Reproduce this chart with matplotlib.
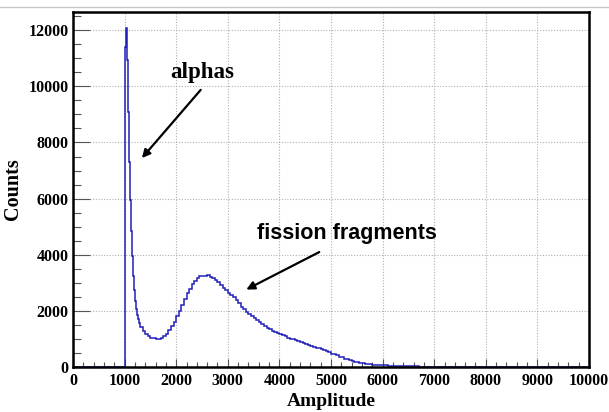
import numpy as np
import matplotlib
matplotlib.use("Agg")
import matplotlib.pyplot as plt
from matplotlib.lines import Line2D
from matplotlib.ticker import MultipleLocator

# bin edges (amplitude) and counts
edges_low = [0, 1000]
counts_low = [0]

# fine bins over the alpha peak (width 20)
edges_alpha = [1000, 1020, 1040, 1060, 1080, 1100, 1120, 1140, 1160, 1180,
               1200, 1220, 1240, 1260, 1280, 1300]
counts_alpha = [11400, 12080, 10950, 9100, 7300, 5950, 4850, 3950, 3250, 2750,
                2350, 2080, 1870, 1700, 1560]

# fission fragment region (width 50, from 1300 to 6400)
counts_ff = [
    1420, 1300, 1190, 1110, 1050, 1030, 1010, 1000, 1040, 1090,   # 1300-1800
    1180, 1310, 1460, 1620, 1800, 2000, 2200, 2420, 2620, 2780,   # 1800-2300
    2950, 3060, 3170, 3230, 3260, 3240, 3270, 3210, 3180, 3090,   # 2300-2800
    3020, 2920, 2830, 2740, 2640, 2580, 2510, 2380, 2270, 2150,   # 2800-3300
    2050, 1960, 1890, 1810, 1730, 1660, 1600, 1530, 1470, 1400,   # 3300-3800
    1350, 1300, 1250, 1220, 1180, 1140, 1090, 1040, 1010, 980,    # 3800-4300
    950, 910, 880, 850, 810, 780, 750, 720, 690, 660,             # 4300-4800
    630, 600, 560, 520, 480, 450, 410, 370, 340, 300,             # 4800-5300
    270, 240, 215, 190, 170, 150, 130, 115, 100, 90,              # 5300-5800
    80, 72, 68, 62, 60, 55, 52, 48, 42, 38,                       # 5800-6300
    34, 30,                                                       # 6300-6400
]
edges_ff = list(range(1300, 6401, 50))

# tail
edges_tail = [6400, 6500, 6600, 6700, 6800, 7000, 8000, 10000]
counts_tail = [26, 22, 18, 15, 12, 8, 5]

edges = edges_low + edges_alpha[1:] + edges_ff[1:] + edges_tail[1:]
counts = counts_low + counts_alpha + counts_ff + counts_tail

serif = ["Liberation Serif", "DejaVu Serif"]
sans = ["Liberation Sans", "DejaVu Sans"]

fig = plt.figure(figsize=(6.09, 4.12), dpi=100)
fig.patch.set_facecolor("white")
ax = fig.add_axes([73 / 609, 1 - 367 / 412, 516 / 609, 355 / 412])

ax.stairs(counts, edges, color="#2020b8", linewidth=1.1, baseline=0)

ax.set_xlim(0, 10000)
ax.set_ylim(0, 12650)

ax.xaxis.set_major_locator(MultipleLocator(1000))
ax.xaxis.set_minor_locator(MultipleLocator(200))
ax.yaxis.set_major_locator(MultipleLocator(2000))
ax.yaxis.set_minor_locator(MultipleLocator(500))

ax.grid(True, which="major", color="#b0b0b0", linestyle=(0, (1, 1.5)), linewidth=0.8)
ax.set_axisbelow(True)

ax.tick_params(axis="x", which="major", direction="in", length=6, width=0.8, pad=4,
               top=False, color="#555555")
ax.tick_params(axis="x", which="minor", direction="in", length=3.5, width=0.8,
               top=False, color="#555555")
ax.tick_params(axis="y", which="major", direction="in", length=12, width=0.8, pad=3,
               right=False, color="#555555")
ax.tick_params(axis="y", which="minor", direction="in", length=6, width=0.8,
               right=False, color="#555555")

for lab in ax.get_xticklabels() + ax.get_yticklabels():
    lab.set_family(serif)
    lab.set_fontweight("bold")
    lab.set_fontsize(11.5)

for sp in ax.spines.values():
    sp.set_linewidth(1.8)
    sp.set_color("black")

ax.set_xlabel("Amplitude", family=serif, fontweight="bold", fontsize=14)
ax.set_ylabel("Counts", family=serif, fontweight="bold", fontsize=14.5)
ax.xaxis.set_label_coords(0.5, -0.072)
ax.yaxis.set_label_coords(-0.096, 0.5)

# annotations
ax.text(2500, 10500, "alphas", family=serif, fontweight="bold", fontsize=16.5,
        ha="center", va="center")
ax.annotate("", xy=(1300, 7370), xytext=(2510, 9950),
            arrowprops=dict(arrowstyle="-|>", color="black", lw=1.6, mutation_scale=12))

ax.text(5300, 4770, "fission fragments", family=sans, fontweight="bold", fontsize=15.5,
        ha="center", va="center")
ax.annotate("", xy=(3310, 2715), xytext=(4820, 4140),
            arrowprops=dict(arrowstyle="-|>", color="black", lw=1.6, mutation_scale=12))

# thin line along the top of the picture
fig.add_artist(Line2D([0, 1], [1 - 7 / 412, 1 - 7 / 412], color="#c8c8c8",
                      linewidth=1.0, transform=fig.transFigure))

fig.savefig("out.png", dpi=100)
